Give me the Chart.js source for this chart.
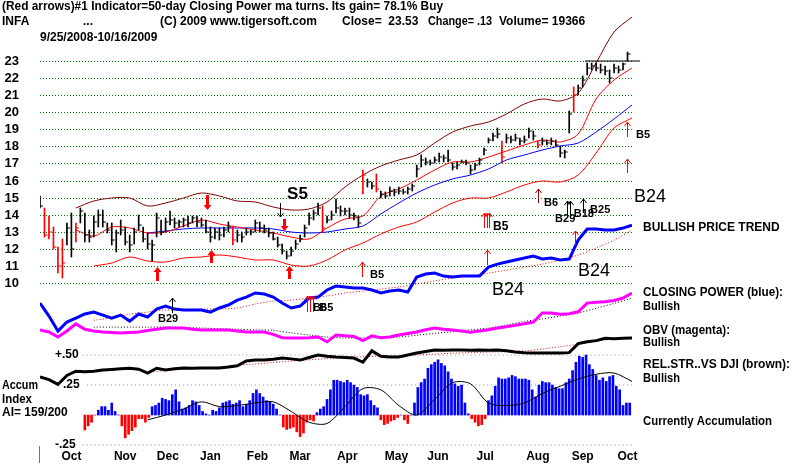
<!DOCTYPE html>
<html>
<head>
<meta charset="utf-8">
<script src="https://cdn.jsdelivr.net/npm/chart.js@4.4.1/dist/chart.umd.min.js"></script>
<style>
  html, body { margin: 0; padding: 0; background: #fff; overflow: hidden; }
  #wrap { width: 800px; height: 464px; }
  canvas { display: block; }
</style>
</head>
<body>
<div id="wrap"><canvas id="chart" width="800" height="464"></canvas></div>
<script>
// INFA 9/25/2008 - 10/16/2009, x = trading day (0 = 9/25/2008)
// price bars, one every 2nd trading day
const barHigh = [15.1,14.4,13.9,13.3,12.1,12.6,13.5,14.1,13.5,14.4,
  14.1,13.1,13.9,14.3,14.3,13.5,13.5,13.1,13.7,13.3,
  12.8,13.2,14.0,13.3,12.9,12.5,14.1,13.7,13.8,14.2,
  13.8,13.7,13.8,13.9,13.9,13.9,13.8,13.7,13.3,13.2,
  13.2,13.3,13.6,13.3,13.1,13.0,13.2,13.1,13.7,13.6,
  13.4,13.2,13.0,12.7,12.3,11.9,12.1,12.5,12.8,13.4,
  14.1,14.3,14.7,14.5,13.9,14.2,14.9,14.5,14.4,14.4,
  14.1,13.9,16.6,16.1,15.9,16.4,15.4,15.3,15.6,15.5,
  15.6,15.5,15.6,15.8,16.9,17.5,17.3,17.2,17.4,17.6,
  17.5,17.8,17.0,17.1,17.2,17.2,16.9,17.0,17.3,17.9,
  18.5,18.8,19.1,18.3,18.7,18.6,18.7,18.5,18.6,19.1,
  18.9,18.3,18.5,18.4,18.5,18.4,18.0,17.8,20.1,21.5,
  21.6,22.1,22.9,22.9,22.9,22.8,22.7,22.5,22.8,22.7,
  22.9,23.5];
const barLow = [14.4,12.7,12.6,12.0,10.6,10.3,12.2,11.5,12.4,13.5,
  12.4,12.4,12.7,13.3,13.3,12.9,12.2,11.8,12.8,12.2,
  11.8,12.3,13.1,12.4,12.0,11.3,12.7,12.8,13.0,13.4,
  13.2,13.3,13.3,13.3,13.5,13.3,13.3,12.9,12.4,12.6,
  12.5,12.7,13.0,12.2,12.4,12.4,12.8,12.8,13.0,13.0,
  12.9,12.7,12.5,12.1,11.7,11.4,11.6,12.0,12.4,12.7,
  13.4,13.7,14.0,13.0,13.5,13.7,14.1,13.9,14.0,13.8,
  13.7,13.3,15.2,15.6,15.5,15.3,15.0,15.0,15.1,15.1,
  15.2,15.2,15.2,15.4,16.2,16.8,16.9,16.9,17.0,17.1,
  17.1,17.1,16.6,16.7,17.0,16.9,16.4,16.6,16.9,17.5,
  18.2,18.3,18.5,17.0,18.2,18.2,18.3,18.1,18.2,18.5,
  18.4,17.9,18.1,18.1,18.1,18.0,17.4,17.3,18.8,20.0,
  21.0,21.5,22.2,22.5,22.4,22.3,22.2,21.7,22.3,22.3,
  22.5,23.0];
const barClose = [14.5,12.8,13.0,12.1,11.0,11.2,13.2,12.0,13.2,14.2,
  12.8,12.7,13.6,14.0,13.6,13.1,12.5,12.9,13.1,12.4,
  12.2,13.0,13.4,12.6,12.3,12.2,13.8,13.0,13.6,13.7,
  13.5,13.6,13.7,13.5,13.8,13.6,13.4,13.0,12.7,13.0,
  12.8,13.1,13.3,12.5,12.8,12.7,13.0,13.0,13.5,13.2,
  13.1,12.9,12.6,12.2,11.9,11.6,11.9,12.3,12.6,13.2,
  13.8,14.1,14.4,13.2,13.7,14.0,14.4,14.2,14.2,14.0,
  13.9,13.5,16.3,15.9,15.7,15.5,15.2,15.1,15.4,15.3,
  15.4,15.3,15.5,15.7,16.7,17.2,17.1,17.0,17.2,17.4,
  17.3,17.2,16.8,16.9,17.1,17.0,16.6,16.9,17.2,17.8,
  18.4,18.6,18.7,17.4,18.5,18.4,18.5,18.3,18.4,18.9,
  18.6,18.1,18.3,18.2,18.3,18.1,17.6,17.7,19.9,21.0,
  21.4,21.9,22.6,22.7,22.6,22.5,22.4,22.0,22.6,22.5,
  22.8,23.4];
const redBars = [1, 2, 3, 4, 5, 8, 43, 63, 72, 75, 103, 111, 119];

// bands and moving averages, one value every 8 trading days
const upperBand = [null,null,14.4,14.8,15.0,14.95,14.5,14.68,14.95,15.27,
  15.1,14.8,14.72,14.45,14.27,14.35,14.75,15.65,16.35,16.85,
  17.2,17.5,18.2,18.85,19.2,19.4,19.9,20.5,20.78,20.65,
  21.1,22.9,24.7,25.58];
const midLine = [null,null,13.1,12.75,13.28,13.2,12.93,13.0,13.35,13.68,
  13.45,13.25,13.1,12.93,12.68,12.6,13.2,13.75,13.95,15.07,
  15.48,16.04,16.6,17.1,17.1,17.35,17.75,18.1,18.35,18.25,
  18.75,20.8,21.9,22.6];
const ma50 = [null,null,null,null,null,null,12.93,13.02,13.18,13.22,
  13.22,13.22,13.2,13.16,13.0,12.93,12.98,13.15,13.35,14.05,
  14.7,15.26,15.76,16.07,16.35,16.7,17.2,17.5,17.8,18.0,
  18.2,18.85,19.6,20.42];
const lowerBand = [null,null,null,11.02,11.2,11.5,11.27,11.25,11.45,11.55,
  11.65,11.5,11.35,11.35,11.05,10.97,11.35,11.95,12.35,12.85,
  13.25,13.6,14.15,14.7,14.95,15.0,15.3,15.75,16.0,15.9,
  16.3,17.6,19.1,19.66];

// indicators, one value every 4 trading days
const closingPower = [0.933,0.825,0.70,0.775,0.808,0.842,0.858,0.833,0.808,0.833,
  0.783,0.842,0.817,0.883,0.908,0.883,0.875,0.875,0.875,0.858,
  0.892,0.917,0.958,0.983,1.017,1.008,0.983,0.933,0.892,0.908,
  0.975,0.983,1.042,1.075,1.067,1.058,1.058,1.042,1.017,1.033,
  1.042,1.025,1.15,1.175,1.183,1.158,1.15,1.158,1.158,1.158,
  1.233,1.258,1.275,1.292,1.308,1.325,1.30,1.308,1.292,1.30,
  1.458,1.55,1.55,1.542,1.542,1.558,1.583];
const obv = [0.708,0.692,0.65,0.70,0.76,0.715,0.70,0.692,0.688,0.683,
  0.688,0.692,0.705,0.715,0.725,0.725,0.725,0.715,0.708,0.708,
  0.708,0.708,0.70,0.692,0.692,0.692,0.672,0.645,0.642,0.642,
  0.645,0.65,0.61,0.667,0.66,0.655,0.62,0.66,0.645,0.65,
  0.667,0.68,0.692,0.71,0.725,0.715,0.708,0.70,0.69,0.70,
  0.71,0.725,0.735,0.748,0.76,0.775,0.85,0.85,0.84,0.845,
  0.86,0.933,0.94,0.945,0.955,0.975,1.017];
const relStr = [0.317,0.295,0.255,0.33,0.365,0.36,0.365,0.375,0.38,0.385,
  0.39,0.382,0.35,0.39,0.375,0.385,0.392,0.39,0.392,0.392,
  0.392,0.40,0.41,0.45,0.458,0.458,0.465,0.475,0.468,0.458,
  0.48,0.5,0.49,0.483,0.48,0.475,0.44,0.535,0.49,0.483,
  0.483,0.5,0.517,0.53,0.542,0.54,0.542,0.542,0.54,0.542,
  0.54,0.542,0.535,0.525,0.52,0.517,0.517,0.517,0.517,0.52,
  0.595,0.61,0.62,0.64,0.635,0.64,0.642];

// indicator moving averages, every 8 trading days
const cpMa = [null,null,null,0.79,0.81,0.84,0.858,0.875,0.875,0.883,
  0.883,0.892,0.925,0.95,0.958,0.975,0.992,1.017,1.033,1.05,
  1.067,1.092,1.117,1.142,1.158,1.183,1.208,1.233,1.258,1.292,
  1.333,1.392,1.458,1.542];
const obvMa = [null,null,null,0.733,0.733,0.733,0.733,0.733,0.73,0.725,
  0.72,0.715,0.71,0.706,0.685,0.667,0.65,0.642,0.642,0.645,
  0.65,0.665,0.68,0.695,0.71,0.725,0.75,0.78,0.8,0.825,
  0.85,0.89,0.93,0.975];
const relStrMa = [null,null,null,null,null,null,0.355,0.37,0.38,0.39,
  0.40,0.415,0.425,0.438,0.45,0.46,0.47,0.48,0.485,0.49,
  0.492,0.5,0.508,0.515,0.52,0.525,0.528,0.535,0.55,0.57,
  0.59,0.615,0.635,0.65];
const accumMa = [null,null,null,null,null,null,-0.04,0.0,0.05,0.11,
  0.07,0.08,0.1,0.11,0.03,-0.06,-0.07,0.07,0.22,0.21,
  0.08,0.0,0.13,0.27,0.26,0.1,0.08,0.1,0.18,0.24,
  0.3,0.34,0.35,0.28];

// accumulation index, every 1.5 trading days from day 20
const accum = [-0.125,-0.09,-0.06,0.0,0.04,0.07,0.07,0.04,0.10,0.03,
  0.0,-0.09,-0.19,-0.16,-0.13,-0.1,-0.03,-0.03,-0.06,-0.02,
  0.07,0.08,0.1,0.14,0.13,0.12,0.17,0.21,0.11,0.05,
  0.06,0.08,0.12,0.11,0.08,0.03,0.01,0.0,0.04,0.03,
  0.06,0.1,0.11,0.12,0.09,0.1,0.12,0.07,0.09,0.12,
  0.18,0.21,0.18,0.15,0.12,0.11,0.09,0.05,0.0,-0.1,
  -0.12,-0.11,-0.1,-0.14,-0.18,-0.15,-0.06,-0.04,-0.05,0.02,
  0.05,0.07,0.13,0.21,0.29,0.29,0.28,0.27,0.29,0.27,
  0.25,0.23,0.17,0.16,0.17,0.12,0.08,0.06,-0.04,-0.08,
  -0.07,-0.05,-0.04,-0.02,0.0,-0.04,-0.07,0.0,0.1,0.23,
  0.27,0.3,0.39,0.42,0.44,0.46,0.43,0.41,0.36,0.30,
  0.26,0.24,0.25,0.1,0.01,-0.03,-0.06,-0.09,-0.08,-0.03,
  0.12,0.16,0.24,0.31,0.30,0.30,0.31,0.33,0.32,0.30,
  0.30,0.30,0.29,0.21,0.15,0.25,0.28,0.27,0.27,0.25,
  0.23,0.22,0.22,0.27,0.30,0.37,0.44,0.49,0.48,0.50,
  0.42,0.38,0.33,0.29,0.31,0.28,0.32,0.33,0.24,0.21,
  0.08,0.1,0.1];

const priceTicks = [10,11,12,13,14,15,16,17,18,19,20,21,22,23];
const monthDays = [14, 38, 57, 76, 97, 116, 137, 159, 177.5, 198.5, 222, 242, 262];
const monthNames = ['Oct','Nov','Dec','Jan','Feb','Mar','Apr','May','Jun','Jul','Aug','Sep','Oct'];
const resistance = 23;

// signal arrows: [day, from, to]
const thickSignals = [
  [74.5, 15.15, 14.27], [108.8, 13.75, 13.05],
  [52.2, 10.12, 10.94], [76.3, 11.17, 11.93], [111, 10.24, 11.0]
];
// [day, from, to, colour, axis]
const thinSignals = [
  [107, 14.69, 13.87, '#000000', 'y'],
  [143.6, 10.35, 11.23, '#ff0000', 'y'],
  [199.2, 11.06, 11.93, '#ff0000', 'y'],
  [198.0, 13.22, 14.1, '#ff0000', 'y'], [199.2, 13.22, 14.1, '#ff0000', 'y'], [200.4, 13.22, 14.1, '#ff0000', 'y'],
  [238.6, 12.23, 13.05, '#ff0000', 'y'],
  [261.8, 18.55, 19.43, '#ff0000', 'y'],
  [261.8, 16.44, 17.26, '#ff0000', 'y'],
  [222, 14.69, 15.5, '#a00000', 'y'],
  [235, 13.87, 14.8, '#000000', 'y'], [236.4, 13.87, 14.8, '#000000', 'y'],
  [242, 14.1, 14.92, '#000000', 'y'],
  [58.9, 0.85, 0.975, '#000000', 'ind'],
  [119, 0.858, 0.992, '#ff0000', 'ind'], [120.4, 0.858, 0.992, '#ff0000', 'ind'], [121.7, 0.858, 0.992, '#ff0000', 'ind']
];
// [text, day, value, axis, font]
const signalText = [
  ['S5', 110.2, 15.21, 'y', 'bold 17px'],
  ['B5', 147.2, 10.47, 'y', 'bold 11px'],
  ['B5', 202, 13.28, 'y', 'bold 12px'],
  ['B5', 265.8, 18.67, 'y', 'bold 11px'],
  ['B6', 224.8, 14.69, 'y', 'bold 11px'],
  ['B29', 229.7, 13.75, 'y', 'bold 11px'],
  ['B18', 238, 14.04, 'y', 'bold 11px'],
  ['B25', 245.3, 14.28, 'y', 'bold 11px'],
  ['B24', 201.6, 9.59, 'y', '18px'],
  ['B24', 239.9, 10.7, 'y', '18px'],
  ['B29', 52.6, 0.8, 'ind', 'bold 11px'],
  ['B6', 121.7, 0.892, 'ind', 'bold 11px'],
  ['B5', 124.5, 0.892, 'ind', 'bold 11px']
];

// page text: [text, x, y, maxWidth, font]
const pageText = [
  ['(Red arrows)#1 Indicator=50-day Closing Power ma turns. Its gain= 78.1% Buy', 2, 7, 441],
  ['INFA', 2, 22, 30],
  ['...', 83, 22, 10],
  ['(C) 2009 www.tigersoft.com', 160, 22, 163],
  ['Close=  23.53', 342, 22, 78],
  ['Change= .13', 428, 22, 64],
  ['Volume= 19366', 499, 22, 96],
  ['9/25/2008-10/16/2009', 40, 38, 133],
  ['B24', 634, 197, 32, '18px'],
  ['BULLISH PRICE TREND', 643, 228, 138],
  ['CLOSING POWER (blue):', 643, 293, 140],
  ['Bullish', 643, 307, 37],
  ['OBV (magenta):', 643, 331, 87],
  ['Bullish', 643, 343, 37],
  ['REL.STR..VS DJI (brown):', 643, 365, 147],
  ['Bullish', 643, 379, 37],
  ['Currently Accumulation', 643, 422, 129],
  ['Accum', 2, 386, 36],
  ['Index', 2, 400, 30],
  ['AI= 159/200', 2, 413, 70],
  ['+.50', 55, 355, 25],
  ['.25', 63, 385, 17],
  ['-.25', 55, 445, 23]
];

const FONT = '"Liberation Sans", Arial, sans-serif';
const lineDays = upperBand.map((_, i) => i * 8);
const indDays = closingPower.map((_, i) => i * 4);
const pts = (days, vals) => days.map((d, i) => ({x: d, y: vals[i]}));

const line = (vals, days, color, width, extra) => Object.assign({
  type: 'line', data: pts(days, vals), borderColor: color, borderWidth: width,
  pointRadius: 0, fill: false, tension: 0.3, spanGaps: false, order: 5
}, extra);

const overlay = {
  id: 'overlay',
  afterDatasetsDraw(chart) {
    const {ctx} = chart;
    const px = d => chart.scales.x.getPixelForValue(d);
    const py = (v, ax) => chart.scales[ax || 'y'].getPixelForValue(v);
    ctx.save();
    thickSignals.forEach(([d, a, b]) => {
      const x = Math.round(px(d)), y1 = py(a), y2 = py(b);
      const dir = y2 < y1 ? -1 : 1, hb = y2 - dir * 5;
      ctx.fillStyle = '#ff0000';
      ctx.fillRect(x - 1, Math.min(y1, hb), 3, Math.abs(hb - y1));
      ctx.beginPath();
      ctx.moveTo(x - 3.5, hb); ctx.lineTo(x + 4.5, hb); ctx.lineTo(x + 0.5, y2);
      ctx.closePath(); ctx.fill();
    });
    thinSignals.forEach(([d, a, b, col, ax]) => {
      const x = Math.round(px(d)) + 0.5, y1 = py(a, ax), y2 = py(b, ax);
      const dir = y2 < y1 ? -1 : 1;
      ctx.strokeStyle = col; ctx.lineWidth = 1;
      ctx.beginPath();
      ctx.moveTo(x, y1); ctx.lineTo(x, y2);
      ctx.moveTo(x - 3, y2 - dir * 4); ctx.lineTo(x, y2); ctx.lineTo(x + 3, y2 - dir * 4);
      ctx.stroke();
    });
    ctx.textBaseline = 'middle'; ctx.textAlign = 'left'; ctx.fillStyle = '#000';
    signalText.forEach(([t, d, v, ax, font]) => {
      ctx.font = font + ' ' + FONT;
      ctx.fillText(t, px(d), py(v, ax));
    });
    ctx.restore();
  },
  afterDraw(chart) {
    const {ctx} = chart;
    const ys = chart.scales.y;
    ctx.save();
    ctx.textBaseline = 'middle'; ctx.fillStyle = '#000';
    // price axis labels, right-aligned left of the plot
    ctx.textAlign = 'right';
    ctx.font = 'bold 13px ' + FONT;
    ys.ticks.forEach(t => ctx.fillText(String(t.value), 19, ys.getPixelForValue(t.value)));
    ctx.textAlign = 'left';
    pageText.forEach(([t, x, y, w, font]) => {
      ctx.font = (font || 'bold 12px') + ' ' + FONT;
      ctx.fillText(t, x, y, w);
    });
    ctx.strokeStyle = '#808000'; ctx.lineWidth = 1;
    ctx.beginPath(); ctx.moveTo(39.5, 446); ctx.lineTo(39.5, 463); ctx.stroke();
    ctx.restore();
  }
};

const barColors = barHigh.map((_, i) => redBars.includes(i) ? '#ff0000' : '#000000');

new Chart(document.getElementById('chart'), {
  type: 'line',
  data: {
    datasets: [
      {type: 'bar', data: barHigh.map((h, i) => ({x: i * 2, y: [barLow[i], h]})),
        backgroundColor: barColors, barThickness: 1, grouped: false, yAxisID: 'y', order: 0},
      {type: 'line', data: barClose.map((c, i) => ({x: i * 2, y: c})), showLine: false,
        pointStyle: 'dash', pointRadius: 3, pointBorderWidth: 1,
        pointBorderColor: barColors, pointBackgroundColor: barColors, yAxisID: 'y', order: 0},
      line(upperBand, lineDays, '#800000', 1, {yAxisID: 'y'}),
      line(midLine, lineDays, '#ff0000', 1, {yAxisID: 'y'}),
      line(ma50, lineDays, '#0000ff', 1, {yAxisID: 'y'}),
      line(lowerBand, lineDays, '#ff0000', 1, {yAxisID: 'y'}),
      line([resistance, resistance], [243, 267.6], '#000000', 1, {yAxisID: 'y', tension: 0, clip: false}),
      {type: 'bar', data: accum.map((v, k) => ({x: 20 + 1.5 * k, y: v})),
        backgroundColor: accum.map(v => v < 0 ? '#ff0000' : '#0000ff'),
        barThickness: 2, grouped: false, yAxisID: 'ind', order: 6},
      line(accumMa, lineDays, '#000000', 1, {yAxisID: 'ind', order: 4}),
      line([0.5, 0.5], [19, 264], '#b08a8a', 1, {yAxisID: 'ind', borderDash: [1, 3], order: 7}),
      line([0.25, 0.25], [21, 264], '#909090', 1, {yAxisID: 'ind', borderDash: [1, 3], order: 7}),
      line([-0.25, -0.25], [19, 264], '#c080a0', 1, {yAxisID: 'ind', borderDash: [1, 3], order: 7, clip: false}),
      line(cpMa, lineDays, '#ff0000', 1, {yAxisID: 'ind', borderDash: [1, 2]}),
      line(obvMa, lineDays, '#000000', 1, {yAxisID: 'ind', borderDash: [1, 2]}),
      line(relStrMa, lineDays, '#ff0000', 1, {yAxisID: 'ind', borderDash: [1, 2]}),
      line(closingPower, indDays, '#0000ff', 3, {yAxisID: 'ind', tension: 0, order: 2}),
      line(obv, indDays, '#ff00ff', 3, {yAxisID: 'ind', tension: 0, order: 2}),
      line(relStr, indDays, '#000000', 3, {yAxisID: 'ind', tension: 0, order: 2})
    ]
  },
  options: {
    responsive: false,
    animation: false,
    devicePixelRatio: 1,
    events: [],
    layout: {padding: {top: 14, right: 168, left: 0, bottom: 0}},
    plugins: {legend: {display: false}, tooltip: {enabled: false}},
    scales: {
      x: {
        type: 'linear', min: 0, max: 264, offset: false,
        grid: {display: false, drawTicks: false}, border: {display: false},
        afterBuildTicks: s => { s.ticks = monthDays.map(v => ({value: v})); },
        afterFit: s => { s.height = 18; },
        ticks: {autoSkip: false, maxRotation: 0, padding: 3, color: '#000',
          font: {family: FONT, weight: 'bold', size: 12},
          callback: (v, i) => monthNames[i]}
      },
      y: {
        type: 'linear', position: 'left', min: 0.455, max: 25.752, alignToPixels: true,
        afterBuildTicks: s => { s.ticks = priceTicks.map(v => ({value: v})); },
        afterFit: s => { s.width = 40; },
        grid: {color: '#008000', lineWidth: 1, drawTicks: false},
        border: {display: false, dash: [1, 2]},
        ticks: {display: false}
      },
      ind: {type: 'linear', display: false, min: -0.258, max: 3.342}
    }
  },
  plugins: [overlay]
});
</script>
</body>
</html>
